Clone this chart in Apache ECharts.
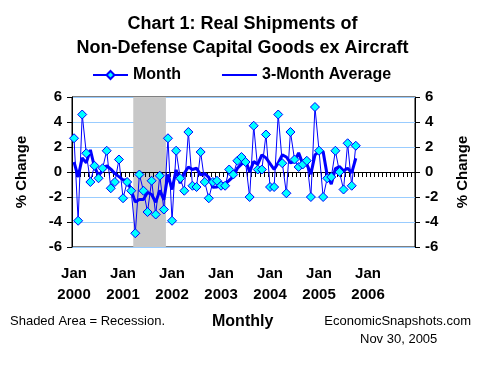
<!DOCTYPE html>
<html>
<head>
<meta charset="utf-8">
<script src="https://cdn.jsdelivr.net/npm/echarts@6/dist/echarts.min.js"></script>
<style>
html,body{margin:0;padding:0;background:#fff;}
#chart{width:485px;height:365px;}
</style>
</head>
<body>
<div id="chart"></div>
<script>
// ---- data ----
const years = [2000, 2001, 2002, 2003, 2004, 2005, 2006];
const monthNames = ['Jan','Feb','Mar','Apr','May','Jun','Jul','Aug','Sep','Oct','Nov','Dec'];
const categories = [];
years.forEach(y => monthNames.forEach(m => categories.push(m + ' ' + y)));

// Monthly % change (Jan 2000 - Oct 2005)
const monthly = [
  2.7, -3.9, 4.6, 1.5, -0.8, 0.5, -0.5, 0.3, 1.7, -1.3, -0.8, 1.0,
  -2.1, -0.8, -1.5, -4.9, -0.2, -1.5, -3.2, -0.7, -3.4, -0.3, -3.0, 2.7,
  -3.9, 1.7, -0.5, -1.5, 3.2, -1.1, -1.2, 1.6, -0.8, -2.1, -0.8, -0.7,
  -1.1, -1.1, 0.2, -0.2, 0.9, 1.2, 0.8, -2.0, 3.7, 0.2, 0.2, 3.0,
  -1.2, -1.2, 4.6, 0.7, -1.7, 3.2, 1.0, 0.4, 0.6, 0.9, -2.0, 5.2,
  1.7, -2.0, -0.5, -0.4, 1.7, 0.0, -1.4, 2.3, -1.1, 2.1
];
// 3-month average
const avg3 = [
  0.8, -0.4, 1.13, 0.73, 1.77, 0.4, -0.27, 0.1, 0.5, 0.23, -0.13, -0.37,
  -0.63, -0.63, -1.47, -2.4, -2.2, -2.2, -1.63, -1.8, -2.43, -1.47, -2.23, -0.2,
  -1.4, 0.17, -0.9, -0.1, 0.4, 0.2, 0.3, -0.23, -0.13, -0.43, -1.23, -1.2,
  -0.87, -0.97, -0.67, -0.37, 0.3, 0.63, 0.97, 0.0, 0.83, 0.63, 1.37, 1.13,
  0.67, 0.2, 0.73, 1.37, 1.2, 0.73, 0.83, 1.53, 0.67, 0.63, -0.17, 1.37,
  1.63, 1.63, -0.27, -0.97, 0.27, 0.43, 0.1, 0.3, -0.07, 1.1
];
const yTicks = [-6, -4, -2, 0, 2, 4, 6];
const recession = ['Apr 2001', 'Nov 2001'];

// ---- chart ----
const FONT = 'Liberation Sans, Arial, sans-serif';
const chart = echarts.init(document.getElementById('chart'), null, {renderer: 'canvas'});
const recStart = categories.indexOf(recession[0]);
const recEnd = categories.indexOf(recession[1]) + 1;

const yAxisCommon = {
  type: 'value', min: yTicks[0], max: yTicks[yTicks.length - 1], interval: 2,
  axisLine: {show: true, lineStyle: {color: '#000', width: 1}},
  axisTick: {show: true, length: 5, lineStyle: {color: '#000'}},
  axisLabel: {color: '#000', fontFamily: FONT, fontWeight: 'bold', fontSize: 15, margin: 10},
  name: '% Change', nameLocation: 'middle', nameRotate: 90,
  nameTextStyle: {color: '#000', fontFamily: FONT, fontWeight: 'bold', fontSize: 15}
};

chart.setOption({
  animation: false,
  backgroundColor: '#fff',
  title: {
    text: 'Chart 1: Real Shipments of\nNon-Defense Capital Goods ex Aircraft',
    left: 'center', top: 7,
    textStyle: {fontFamily: FONT, fontWeight: 'bold', fontSize: 18, lineHeight: 24, color: '#000'}
  },
  legend: {
    top: 62, left: 87, itemWidth: 35, itemHeight: 10, itemGap: 40,
    textStyle: {fontFamily: FONT, fontWeight: 'bold', fontSize: 16, color: '#000'},
    data: [
      {name: 'Month'},
      {name: '3-Month Average', itemStyle: {color: 'rgba(0,0,0,0)', borderWidth: 0, opacity: 0}}
    ]
  },
  grid: {left: 72, right: 70, top: 97, bottom: 118, show: true, borderColor: '#000', borderWidth: 1, containLabel: false},
  xAxis: [
    { // zero line with monthly ticks
      type: 'category', data: categories, boundaryGap: true, z: 1.5,
      axisLine: {show: true, onZero: true, lineStyle: {color: '#000', width: 1}},
      axisTick: {show: true, interval: 0, length: 5, lineStyle: {color: '#000'}},
      axisLabel: {show: false}, splitLine: {show: false}
    },
    { // bottom labels
      type: 'category', data: categories, boundaryGap: true, position: 'bottom',
      axisLine: {show: false, onZero: false}, axisTick: {show: false},
      axisLabel: {
        show: true, interval: (i) => i % 12 === 0, margin: 16,
        formatter: (v) => v.replace(' ', '\n'),
        color: '#000', fontFamily: FONT, fontWeight: 'bold', fontSize: 15, lineHeight: 21
      }
    },
    { // helper for recession shading
      type: 'value', min: 0, max: categories.length, show: false
    }
  ],
  yAxis: [
    Object.assign({}, yAxisCommon, {position: 'left', nameGap: 43,
      splitLine: {show: true, lineStyle: {color: '#99ccff', width: 1}}}),
    Object.assign({}, yAxisCommon, {position: 'right', nameGap: 40, splitLine: {show: false}})
  ],
  series: [
    {
      name: 'recession', type: 'line', xAxisIndex: 2, yAxisIndex: 0, data: [], z: 1,
      silent: true,
      markArea: {
        silent: true,
        itemStyle: {color: '#c8c8c8'},
        data: [[{xAxis: recStart}, {xAxis: recEnd}]]
      }
    },
    {
      name: 'Month', type: 'line', xAxisIndex: 0, yAxisIndex: 0, data: monthly, z: 3,
      symbol: 'diamond', symbolSize: 9, showSymbol: true, showAllSymbol: true,
      lineStyle: {color: '#0000ff', width: 1},
      itemStyle: {color: '#00ffff', borderColor: '#0000ff', borderWidth: 1}
    },
    {
      name: '3-Month Average', type: 'line', xAxisIndex: 0, yAxisIndex: 0, data: avg3, z: 2,
      symbol: 'none', showSymbol: false,
      lineStyle: {color: '#0000ff', width: 3},
      itemStyle: {color: '#0000ff'}
    }
  ],
  graphic: [
    {type: 'text', left: 10, top: 315, style: {text: 'Shaded Area = Recession.', fontFamily: FONT, fontSize: 13, fill: '#000'}},
    {type: 'text', left: 212, top: 314, style: {text: 'Monthly', fontFamily: FONT, fontWeight: 'bold', fontSize: 16, fill: '#000'}},
    {type: 'text', right: 14, top: 315, style: {text: 'EconomicSnapshots.com', fontFamily: FONT, fontSize: 13, fill: '#000'}},
    {type: 'text', left: 360, top: 333, style: {text: 'Nov 30, 2005', fontFamily: FONT, fontSize: 13, fill: '#000'}}
  ]
});
</script>
</body>
</html>
